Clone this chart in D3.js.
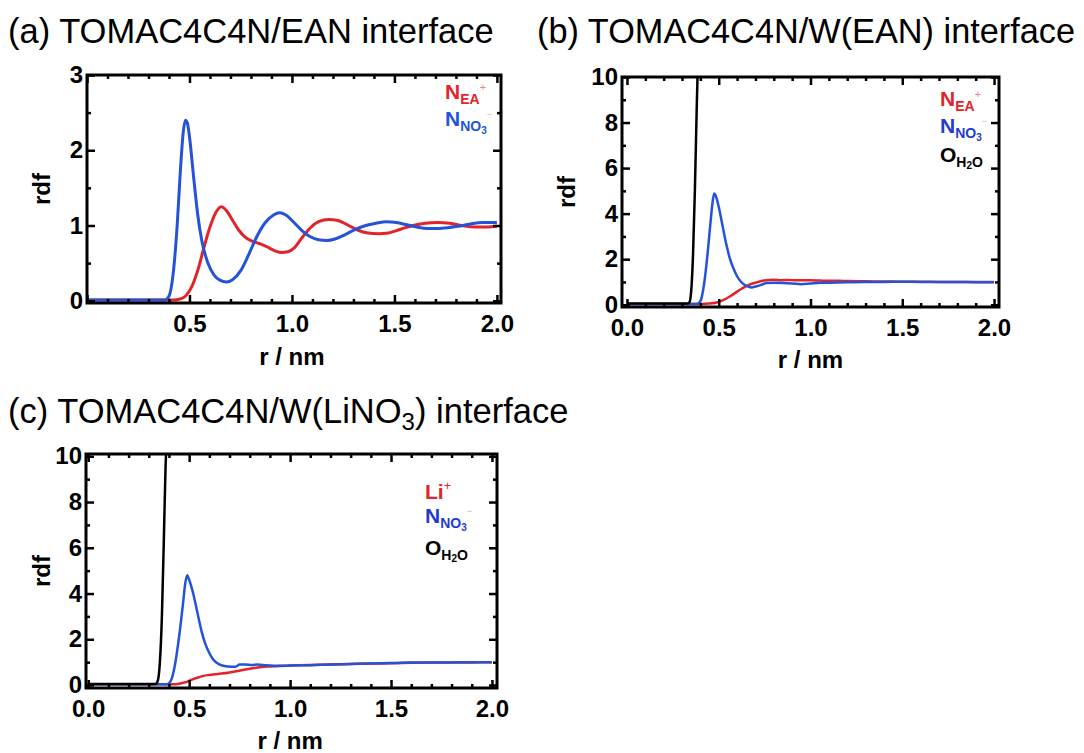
<!DOCTYPE html>
<html>
<head>
<meta charset="utf-8">
<script src="https://cdn.jsdelivr.net/npm/d3@7"></script>
<style>
  body { margin: 0; background: #fff; }
  text { font-family: "Liberation Sans", Arial, sans-serif; }
</style>
</head>
<body>
<div id="chart"></div>
<script>
// ---- data: [r (nm), g(r)] ----
// (a) TOMAC4C4N/EAN
const aEA = [[0,0.01],[0.38,0.01],[0.42,0.01],[0.45,0.02],[0.48,0.06],[0.51,0.18],[0.54,0.4],[0.57,0.7],[0.60,0.98],[0.63,1.18],[0.655,1.25],[0.68,1.2],[0.71,1.07],[0.74,0.94],[0.77,0.85],[0.80,0.8],[0.83,0.77],[0.86,0.74],[0.89,0.7],[0.92,0.66],[0.95,0.64],[0.98,0.65],[1.01,0.7],[1.05,0.84],[1.09,0.97],[1.13,1.05],[1.18,1.08],[1.22,1.07],[1.27,1.01],[1.32,0.94],[1.37,0.9],[1.42,0.89],[1.47,0.9],[1.53,0.95],[1.59,1.0],[1.65,1.03],[1.71,1.04],[1.77,1.03],[1.83,1.0],[1.89,0.98],[1.95,0.98],[2.0,0.99]];
const aNO3 = [[0,0.01],[0.38,0.01],[0.40,0.06],[0.42,0.35],[0.44,1.0],[0.455,1.7],[0.47,2.25],[0.48,2.4],[0.49,2.36],[0.50,2.18],[0.52,1.65],[0.54,1.15],[0.56,0.8],[0.59,0.5],[0.62,0.34],[0.65,0.27],[0.68,0.25],[0.71,0.28],[0.75,0.4],[0.79,0.62],[0.83,0.86],[0.87,1.04],[0.91,1.14],[0.94,1.17],[0.97,1.14],[1.01,1.04],[1.05,0.93],[1.09,0.85],[1.13,0.81],[1.17,0.8],[1.21,0.82],[1.26,0.88],[1.31,0.95],[1.36,1.0],[1.41,1.03],[1.46,1.05],[1.51,1.04],[1.56,1.01],[1.61,0.98],[1.66,0.96],[1.71,0.96],[1.76,0.97],[1.81,0.99],[1.87,1.02],[1.93,1.04],[2.0,1.04]];

// (b) TOMAC4C4N/W(EAN)
const bEA = [[0,0.03],[0.40,0.03],[0.45,0.05],[0.50,0.12],[0.53,0.22],[0.56,0.36],[0.59,0.52],[0.62,0.68],[0.65,0.82],[0.68,0.92],[0.71,0.99],[0.74,1.05],[0.77,1.09],[0.80,1.1],[0.84,1.08],[0.88,1.09],[0.92,1.07],[0.96,1.08],[1.0,1.07],[1.05,1.06],[1.10,1.05],[1.15,1.05],[1.2,1.04],[1.3,1.03],[1.4,1.02],[1.5,1.01],[1.6,1.01],[1.7,1.0],[1.8,1.0],[1.9,1.0],[2.0,1.0]];
const bNO3 = [[0,0.03],[0.38,0.03],[0.40,0.15],[0.42,0.9],[0.44,2.3],[0.455,3.6],[0.465,4.4],[0.475,4.88],[0.485,4.75],[0.50,4.3],[0.52,3.5],[0.54,2.7],[0.56,2.05],[0.58,1.6],[0.60,1.25],[0.62,1.02],[0.64,0.88],[0.66,0.8],[0.68,0.76],[0.70,0.8],[0.72,0.84],[0.74,0.9],[0.76,0.95],[0.80,0.96],[0.85,0.95],[0.90,0.93],[0.95,0.9],[1.0,0.93],[1.05,0.96],[1.1,0.97],[1.2,0.99],[1.3,1.0],[1.4,1.0],[1.5,1.01],[1.6,1.0],[1.7,1.0],[1.8,1.0],[1.9,0.99],[2.0,0.99]];
const bH2O = [[0,0.05],[0.33,0.05],[0.34,0.1],[0.35,0.6],[0.36,2.2],[0.37,5.0],[0.38,8.6],[0.386,10.5]];

// (c) TOMAC4C4N/W(LiNO3)
const cLi = [[0,0.03],[0.42,0.03],[0.45,0.06],[0.48,0.12],[0.51,0.22],[0.54,0.32],[0.57,0.4],[0.60,0.44],[0.63,0.47],[0.66,0.5],[0.70,0.55],[0.74,0.61],[0.78,0.68],[0.82,0.74],[0.86,0.79],[0.90,0.81],[0.95,0.83],[1.0,0.85],[1.1,0.88],[1.2,0.9],[1.3,0.92],[1.4,0.94],[1.5,0.95],[1.6,0.97],[1.7,0.98],[1.8,0.98],[1.9,0.99],[2.0,1.0]];
const cNO3 = [[0,0.03],[0.39,0.03],[0.41,0.2],[0.43,0.9],[0.45,2.1],[0.47,3.6],[0.48,4.4],[0.49,4.8],[0.50,4.6],[0.52,4.0],[0.54,3.2],[0.56,2.4],[0.58,1.8],[0.60,1.4],[0.62,1.1],[0.65,0.9],[0.68,0.82],[0.71,0.8],[0.73,0.8],[0.75,0.9],[0.78,0.9],[0.81,0.88],[0.84,0.9],[0.88,0.86],[0.92,0.84],[0.96,0.84],[1.0,0.85],[1.1,0.87],[1.2,0.9],[1.3,0.92],[1.4,0.94],[1.5,0.96],[1.6,0.98],[1.7,0.98],[1.8,0.99],[1.9,1.0],[2.0,1.0]];
const cH2O = [[0,0.05],[0.335,0.05],[0.345,0.2],[0.355,1.0],[0.365,3.0],[0.375,6.5],[0.383,9.5],[0.388,10.6]];

// ticks
const xMajor = [0, 0.5, 1.0, 1.5, 2.0];
const xMinor = [0.1,0.2,0.3,0.4,0.6,0.7,0.8,0.9,1.1,1.2,1.3,1.4,1.6,1.7,1.8,1.9];
const aYMajor = [0, 1, 2, 3];
const aYMinor = [0.5, 1.5, 2.5];
const bYMajor = [0, 2, 4, 6, 8, 10];
const bYMinor = [1, 3, 5, 7, 9];

const RED = '#e3232a', BLUE = '#2453d8', BLACK = '#000';

const svg = d3.select('#chart').append('svg')
    .attr('width', 1084)
    .attr('height', 753);

// titles
svg.append('text').attr('x', 8).attr('y', 43).attr('font-size', 34.5)
    .text('(a) TOMAC4C4N/EAN interface');
svg.append('text').attr('x', 537).attr('y', 43).attr('font-size', 34.3)
    .text('(b) TOMAC4C4N/W(EAN) interface');
const tc = svg.append('text').attr('x', 8).attr('y', 423).attr('font-size', 34.5);
tc.append('tspan').text('(c) TOMAC4C4N/W(LiNO');
tc.append('tspan').attr('font-size', 24).attr('dy', 7).text('3');
tc.append('tspan').attr('dy', -7).text(') interface');

function drawPanel(p) {
    const x = d3.scaleLinear().domain(p.xDom).range([p.left, p.right]);
    const y = d3.scaleLinear().domain(p.yDom).range([p.bottom, p.top]);
    const g = svg.append('g');

    g.append('clipPath').attr('id', p.id)
        .append('rect')
        .attr('x', p.left).attr('y', p.top)
        .attr('width', p.right - p.left).attr('height', p.bottom - p.top);

    const line = d3.line()
        .x(d => x(d[0]))
        .y(d => y(d[1]))
        .curve(d3.curveMonotoneX);

    p.series.forEach(s => {
        g.append('path')
            .datum(s.data)
            .attr('clip-path', `url(#${p.id})`)
            .attr('fill', 'none')
            .attr('stroke', s.color)
            .attr('stroke-width', s.width)
            .attr('stroke-linejoin', 'round')
            .attr('d', line);
    });

    const fmt = d3.format('.1f');
    const axes = [
        // minor ticks
        [d3.axisBottom(x).tickValues(xMinor).tickSize(-4).tickFormat(''), `translate(0,${p.bottom})`],
        [d3.axisTop(x).tickValues(xMinor).tickSize(-4).tickFormat(''), `translate(0,${p.top})`],
        [d3.axisLeft(y).tickValues(p.yMinor).tickSize(-4).tickFormat(''), `translate(${p.left},0)`],
        [d3.axisRight(y).tickValues(p.yMinor).tickSize(-4).tickFormat(''), `translate(${p.right},0)`],
        // major ticks
        [d3.axisBottom(x).tickValues(xMajor).tickSize(-8).tickPadding(12)
            .tickFormat(d => p.xLabels.includes(d) ? fmt(d) : ''), `translate(0,${p.bottom})`],
        [d3.axisTop(x).tickValues(xMajor).tickSize(-8).tickFormat(''), `translate(0,${p.top})`],
        [d3.axisLeft(y).tickValues(p.yMajor).tickSize(-8).tickPadding(4).tickFormat(d3.format('d')), `translate(${p.left},0)`],
        [d3.axisRight(y).tickValues(p.yMajor).tickSize(-8).tickFormat(''), `translate(${p.right},0)`]
    ];
    axes.forEach(a => {
        const ax = g.append('g').attr('transform', a[1]).call(a[0]);
        ax.select('.domain').remove();
        ax.selectAll('line').attr('stroke', '#000').attr('stroke-width', 2.5);
        ax.selectAll('text')
            .attr('font-family', '"Liberation Sans", Arial, sans-serif')
            .attr('font-size', 24)
            .attr('font-weight', 'bold')
            .attr('fill', '#000');
    });

    g.append('rect')
        .attr('x', p.left).attr('y', p.top)
        .attr('width', p.right - p.left).attr('height', p.bottom - p.top)
        .attr('fill', 'none').attr('stroke', '#000').attr('stroke-width', 3);

    // axis titles
    g.append('text')
        .attr('transform', `translate(${p.yLabelX},${(p.top + p.bottom) / 2}) rotate(-90)`)
        .attr('text-anchor', 'middle').attr('dy', '0.35em')
        .attr('font-size', 24).attr('font-weight', 'bold')
        .text('rdf');
    g.append('text')
        .attr('x', x(1.0)).attr('y', p.xLabelY)
        .attr('text-anchor', 'middle')
        .attr('font-size', 24).attr('font-weight', 'bold')
        .text('r / nm');

    // legend
    p.legend.forEach((item, i) => {
        const t = g.append('text')
            .attr('x', p.legX).attr('y', p.legY[i])
            .attr('font-weight', 'bold')
            .attr('fill', item.color);
        item.parts.forEach(pt => {
            const ts = t.append('tspan').attr('font-size', pt.s).text(pt.t);
            if (pt.dy) ts.attr('dy', pt.dy);
            if (pt.fill) ts.attr('fill', pt.fill);
            if (pt.w) ts.attr('font-weight', pt.w);
        });
    });
}

const legEA = {color: RED, parts: [{t: 'N', s: 21}, {t: 'EA', s: 14, dy: 5}, {t: '+', s: 11, dy: -13, w: 'normal', fill: '#f08080'}]};
const legNO3a = {color: BLUE, parts: [{t: 'N', s: 21}, {t: 'NO', s: 14, dy: 5}, {t: '3', s: 10, dy: 3}, {t: '\u2212', s: 9, dy: -17, w: 'normal', fill: '#bbb'}]};
const legNO3 = {color: '#1f3ccf', parts: [{t: 'N', s: 21}, {t: 'NO', s: 14, dy: 5}, {t: '3', s: 10, dy: 3}, {t: '\u2212', s: 9, dy: -17, w: 'normal', fill: '#bbb'}]};
const legH2O = {color: '#000', parts: [{t: 'O', s: 21}, {t: 'H', s: 14, dy: 5}, {t: '2', s: 10, dy: 2}, {t: 'O', s: 14, dy: -2}]};
const legLi = {color: RED, parts: [{t: 'Li', s: 21}, {t: '+', s: 13, dy: -9, w: 'normal'}]};

drawPanel({
    id: 'clipA', left: 87, right: 501, top: 75, bottom: 303,
    xDom: [0, 2.02], yDom: [-0.03, 3],
    yMajor: aYMajor, yMinor: aYMinor, xLabels: [0.5, 1.0, 1.5, 2.0],
    yLabelX: 42, xLabelY: 365,
    series: [
        {data: aEA, color: RED, width: 3},
        {data: aNO3, color: BLUE, width: 3}
    ],
    legX: 445, legY: [99, 126],
    legend: [legEA, legNO3a]
});

drawPanel({
    id: 'clipB', left: 622, right: 999, top: 77, bottom: 307,
    xDom: [-0.027, 2.027], yDom: [-0.1, 10],
    yMajor: bYMajor, yMinor: bYMinor, xLabels: [0, 0.5, 1.0, 1.5, 2.0],
    yLabelX: 567, xLabelY: 368,
    series: [
        {data: bEA, color: RED, width: 2.5},
        {data: bNO3, color: BLUE, width: 2.5},
        {data: bH2O, color: BLACK, width: 2.5}
    ],
    legX: 940, legY: [106, 133, 162],
    legend: [legEA, legNO3, legH2O]
});

drawPanel({
    id: 'clipC', left: 86, right: 497, top: 454, bottom: 688,
    xDom: [-0.011, 2.025], yDom: [-0.13, 10.1],
    yMajor: bYMajor, yMinor: bYMinor, xLabels: [0, 0.5, 1.0, 1.5, 2.0],
    yLabelX: 42, xLabelY: 749,
    series: [
        {data: cLi, color: RED, width: 2.5},
        {data: cNO3, color: BLUE, width: 2.5},
        {data: cH2O, color: BLACK, width: 2.5}
    ],
    legX: 425, legY: [499, 523, 555],
    legend: [legLi, legNO3, legH2O]
});
</script>
</body>
</html>
